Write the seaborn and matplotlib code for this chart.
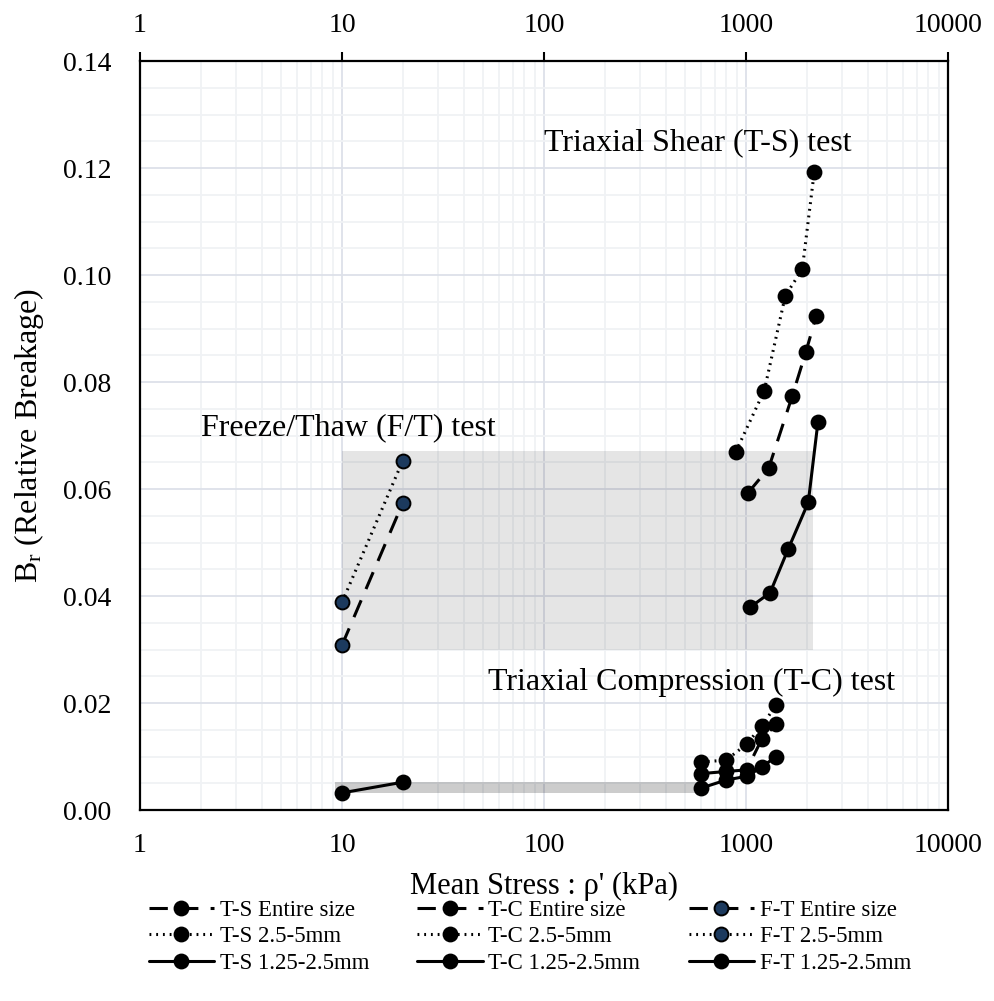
import matplotlib
matplotlib.use('Agg')
import matplotlib.pyplot as plt
import seaborn as sns
from matplotlib.patches import Rectangle
from matplotlib.ticker import FixedLocator, FixedFormatter, LogLocator, MultipleLocator

# Datos (esfuerzo medio kPa, rotura relativa Br)
ts_entire_x = [1019, 1295, 1695, 1982, 2228]
ts_entire_y = [0.0592, 0.0639, 0.0774, 0.0857, 0.0924]
ts_25_x = [889, 1232, 1565, 1900, 2178]
ts_25_y = [0.0669, 0.0784, 0.0961, 0.1011, 0.1193]
ts_125_x = [1047, 1316, 1619, 2034, 2271]
ts_125_y = [0.0379, 0.0406, 0.0488, 0.0575, 0.0725]

tc_x = [600, 796, 1007, 1196, 1409]
tc_entire_y = [0.0068, 0.0072, 0.0075, 0.0132, 0.0160]
tc_25_y = [0.0090, 0.0093, 0.0123, 0.0157, 0.0196]
tc_125_y = [0.0041, 0.0056, 0.0063, 0.0080, 0.0100]

ft_x = [10, 20]
ft_entire_y = [0.0308, 0.0574]
ft_25_y = [0.0388, 0.0653]
ft_125_y = [0.0032, 0.0052]

# zonas sombreadas: (x0, x1, y0, y1)
shade_big = (10, 2150, 0.0300, 0.0672)
shade_small = (9.2, 575, 0.0031, 0.0053)

x_ticks = [1, 10, 100, 1000, 10000]
x_tick_labels = ['1', '10', '100', '1000', '10000']
y_ticks = [0.00, 0.02, 0.04, 0.06, 0.08, 0.10, 0.12, 0.14]

sns.set_style('white')
plt.rcParams['font.family'] = ['Liberation Serif', 'DejaVu Serif']
plt.rcParams['mathtext.fontset'] = 'custom'
plt.rcParams['mathtext.rm'] = 'Liberation Serif'
plt.rcParams['mathtext.it'] = 'Liberation Serif:italic'
for k in ['text.color', 'axes.labelcolor', 'xtick.color', 'ytick.color']:
    plt.rcParams[k] = 'black'

fig = plt.figure(figsize=(9.94, 10.01), dpi=100)
ax = fig.add_axes([0.1408, 0.1908, 0.8129, 0.7482])

navy = '#1c3a5e'
mk = 10
lw = 2.2

series = [
    (ts_entire_x, ts_entire_y, (0, (6, 4)), 'black', 'T-S Entire size'),
    (ts_25_x, ts_25_y, (0, (0.6, 1.6)), 'black', 'T-S 2.5-5mm'),
    (ts_125_x, ts_125_y, '-', 'black', 'T-S 1.25-2.5mm'),
    (tc_x, tc_entire_y, (0, (6, 4)), 'black', 'T-C Entire size'),
    (tc_x, tc_25_y, (0, (0.6, 1.6)), 'black', 'T-C 2.5-5mm'),
    (tc_x, tc_125_y, '-', 'black', 'T-C 1.25-2.5mm'),
    (ft_x, ft_entire_y, (0, (6, 4)), navy, 'F-T Entire size'),
    (ft_x, ft_25_y, (0, (0.6, 1.6)), navy, 'F-T 2.5-5mm'),
    (ft_x, ft_125_y, '-', 'black', 'F-T 1.25-2.5mm'),
]

for xs, ys, ls, fc, lab in series:
    sns.lineplot(x=xs, y=ys, ax=ax, color='black', linestyle=ls, linewidth=lw,
                 marker='o', markersize=mk, markerfacecolor=fc,
                 markeredgecolor='black', markeredgewidth=1.4,
                 estimator=None, sort=False, label=lab, zorder=5)

# rectangulos grises
for (x0, x1, y0, y1), a in [(shade_big, 0.10), (shade_small, 0.20)]:
    ax.add_patch(Rectangle((x0, y0), x1 - x0, y1 - y0, facecolor=(0, 0, 0, a),
                           edgecolor='none', zorder=2))

# textos
ax.text(578, 0.1247, 'Triaxial Shear (T-S) test', ha='center', va='center', fontsize=23)
ax.text(10.7, 0.0714, 'Freeze/Thaw (F/T) test', ha='center', va='center', fontsize=23)
ax.text(535, 0.0239, 'Triaxial Compression (T-C) test', ha='center', va='center', fontsize=23)

# ejes
ax.set_xscale('log')
ax.set_xlim(1, 10000)
ax.set_ylim(0, 0.14)
ax.xaxis.set_major_locator(FixedLocator(x_ticks))
ax.xaxis.set_major_formatter(FixedFormatter(x_tick_labels))
ax.xaxis.set_minor_locator(LogLocator(base=10, subs=range(2, 10)))
ax.xaxis.set_minor_formatter(FixedFormatter([]))
ax.set_yticks(y_ticks)
ax.set_yticklabels(['%.2f' % v for v in y_ticks])
ax.yaxis.set_minor_locator(MultipleLocator(0.005))

ax.grid(True, which='major', color='#dde1e9', linewidth=1.3, zorder=0)
ax.grid(True, which='minor', color='#f0f2f5', linewidth=1.3, zorder=0)
ax.set_axisbelow(True)

ax.tick_params(axis='x', which='major', top=True, bottom=False, labeltop=True,
               labelbottom=True, direction='out', length=6.5, width=1.5,
               pad=10, labelsize=20)
ax.tick_params(axis='x', which='minor', top=False, bottom=False)
ax.tick_params(axis='y', which='both', left=False, right=False, pad=17, labelsize=20)

for s in ax.spines.values():
    s.set_visible(True)
    s.set_color('black')
    s.set_linewidth(1.6)

ax.set_xlabel("Mean Stress : \u03c1' (kPa)", fontsize=22, labelpad=10)
ax.set_ylabel('B$_\\mathrm{r}$ (Relative Breakage)', fontsize=23, labelpad=12)

ax.get_legend().remove()
handles, labels = ax.get_legend_handles_labels()
fig.legend(handles, labels, loc='center', bbox_to_anchor=(0.533, 0.064), ncol=3,
           frameon=False, fontsize=16.5, handlelength=2.85, handletextpad=0.25,
           columnspacing=2.1, labelspacing=0.22)

plt.savefig('out.png', dpi=100)
